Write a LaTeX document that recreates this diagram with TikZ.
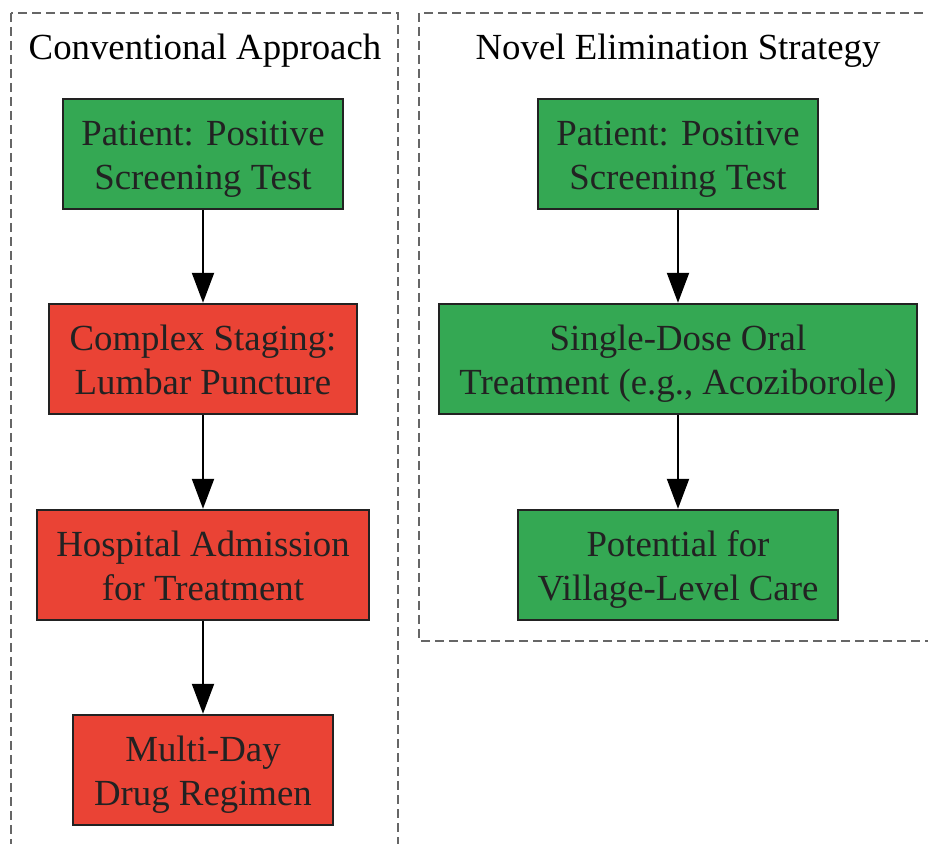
\documentclass[tikz,border=0pt]{standalone}
\usepackage{fontspec}
\setmainfont{Liberation Serif}
\usetikzlibrary{arrows.meta}

\definecolor{goodgreen}{HTML}{34A853}
\definecolor{badred}{HTML}{EA4335}
\definecolor{boxline}{HTML}{222222}
\definecolor{clustergray}{HTML}{666666}

\tikzset{
    stage/.style={draw=boxline,line width=1.2pt,text=boxline,align=center,
        minimum height=55pt,inner sep=0pt,text height=36pt,text depth=0pt,
        font=\fontsize{18.4}{22}\selectfont},
    good/.style={stage,fill=goodgreen},
    bad/.style={stage,fill=badred},
    cluster/.style={draw=clustergray,line width=1.2pt,dash pattern=on 4.5pt off 2.5pt},
    heading/.style={font=\fontsize{18.4}{22}\selectfont},
    flow/.style={line width=1pt,-{Triangle[width=11pt,length=15pt]}}
}

\begin{document}
\begin{tikzpicture}[x=0.5pt,y=-0.5pt]
        \useasboundingbox (0,0) rectangle (928,844);
        \clip (0,0) rectangle (928,844);

        % conventional approach
        \draw[cluster] (11,13) rectangle (398,880);
        \node[heading] (convtitle) at (205,51) {Conventional Approach};

        \node[good,minimum width=140pt] (convscreen) at (203,154) {Patient: Positive\\Screening Test};
        \node[bad,minimum width=154pt] (convstaging) at (203,359) {Complex Staging:\\Lumbar Puncture};
        \node[bad,minimum width=166pt] (convhospital) at (203,565) {Hospital Admission\\for Treatment};
        \node[bad,minimum width=130pt] (convregimen) at (203,770) {Multi-Day\\Drug Regimen};

        \draw[flow] (convscreen) -- (convstaging);
        \draw[flow] (convstaging) -- (convhospital);
        \draw[flow] (convhospital) -- (convregimen);

        % novel elimination strategy
        \draw[cluster] (419,13) rectangle (960,641);
        \node[heading] (noveltitle) at (678,51) {Novel Elimination Strategy};

        \node[good,minimum width=140pt] (novelscreen) at (678,154) {Patient: Positive\\Screening Test};
        \node[good,minimum width=239pt] (noveldose) at (678,359) {Single-Dose Oral\\Treatment (e.g., Acoziborole)};
        \node[good,minimum width=160pt] (novelvillage) at (678,565) {Potential for\\Village-Level Care};

        \draw[flow] (novelscreen) -- (noveldose);
        \draw[flow] (noveldose) -- (novelvillage);
    \end{tikzpicture}
\end{document}
